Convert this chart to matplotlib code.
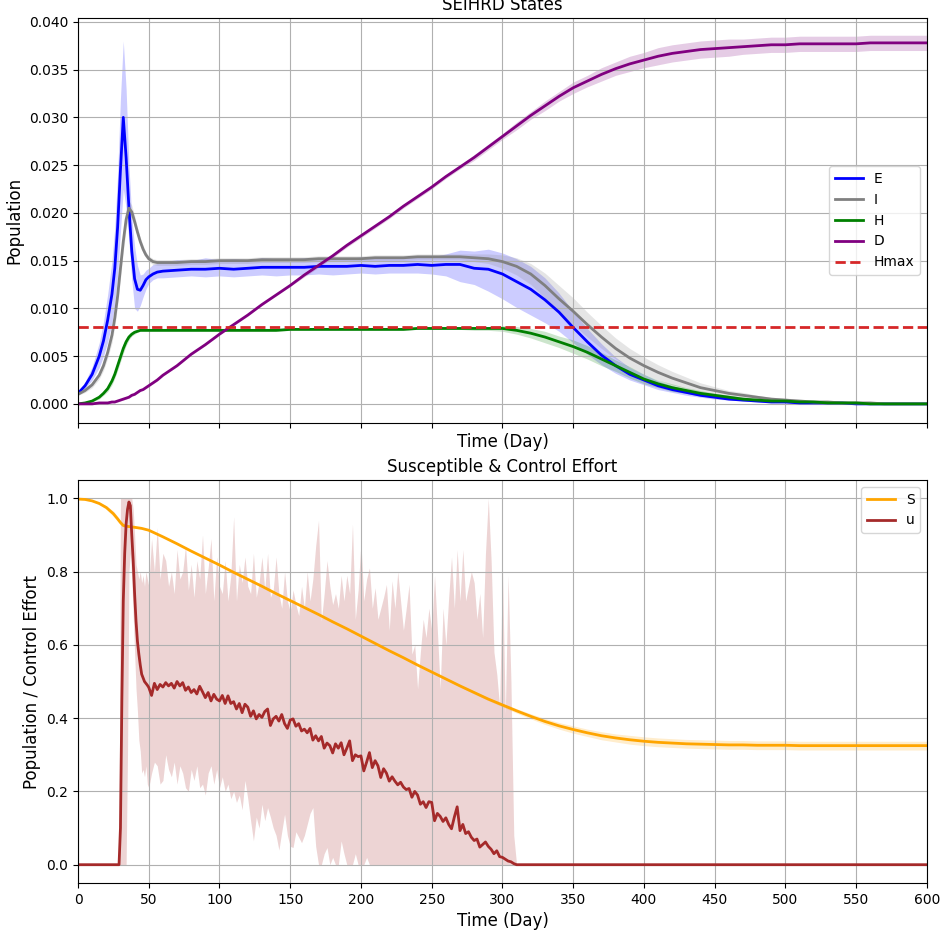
import matplotlib
import matplotlib.pyplot as plt
import numpy as np

matplotlib.use("Agg")

# ---- top panel: SEIHRD states (mean and band) ----
t_top = [0, 5, 10, 15, 18, 21, 24, 26, 28, 30, 32, 34, 36, 38, 40, 42, 44, 46, 48, 50, 53, 56, 60] + list(range(70, 601, 10))

E_mean = [0.0011, 0.0019, 0.0031, 0.0050, 0.0066, 0.0088, 0.0115, 0.0142, 0.0185, 0.0245, 0.0300, 0.0258,
          0.0205, 0.0160, 0.0131, 0.0120, 0.0119, 0.0124, 0.0130, 0.0133, 0.0136, 0.0138, 0.0139,
          0.0140, 0.0141, 0.0141, 0.0142,
          0.0141, 0.0142, 0.0143, 0.0143, 0.0143, 0.0143, 0.0144, 0.0144, 0.0144, 0.0145,
          0.0144, 0.0145, 0.0145, 0.0146, 0.0145, 0.0146, 0.0146, 0.0142, 0.0141, 0.0136,
          0.0128, 0.0120, 0.0109, 0.0096, 0.0080, 0.0065, 0.0051, 0.0040, 0.0031, 0.0025,
          0.0019, 0.0015, 0.0012, 0.0009, 0.0007, 0.0005, 0.0004, 0.0003, 0.0002, 0.0002,
          0.0001, 0.0001, 0.0001, 0.0001, 0.0000, 0.0000, 0.0000, 0.0000, 0.0000, 0.0000]
E_low = [0.0010, 0.0016, 0.0025, 0.0038, 0.0050, 0.0065, 0.0085, 0.0105, 0.0135, 0.0180, 0.0225, 0.0205,
         0.0170, 0.0130, 0.0100, 0.0097, 0.0103, 0.0112, 0.0120, 0.0126, 0.0130, 0.0132, 0.0132,
         0.0133, 0.0134, 0.0133, 0.0134,
         0.0133, 0.0134, 0.0135, 0.0134, 0.0135, 0.0135, 0.0136, 0.0135, 0.0136, 0.0137,
         0.0136, 0.0137, 0.0137, 0.0137, 0.0136, 0.0134, 0.0128, 0.0125, 0.0118, 0.0110,
         0.0101, 0.0093, 0.0085, 0.0076, 0.0064, 0.0052, 0.0041, 0.0032, 0.0025, 0.0020,
         0.0015, 0.0012, 0.0009, 0.0007, 0.0005, 0.0004, 0.0003, 0.0002, 0.0001, 0.0001,
         0.0000, 0.0000, 0.0000, 0.0000, 0.0000, 0.0000, 0.0000, 0.0000, 0.0000, 0.0000]
E_high = [0.0013, 0.0023, 0.0039, 0.0064, 0.0086, 0.0115, 0.0150, 0.0185, 0.0240, 0.0320, 0.0380, 0.0330,
          0.0250, 0.0195, 0.0165, 0.0145, 0.0135, 0.0136, 0.0140, 0.0142, 0.0146, 0.0147, 0.0149,
          0.0151, 0.0150, 0.0153, 0.0151,
          0.0152, 0.0151, 0.0153, 0.0152, 0.0151, 0.0153, 0.0152, 0.0153, 0.0152, 0.0154,
          0.0153, 0.0154, 0.0153, 0.0155, 0.0154, 0.0157, 0.0161, 0.0160, 0.0162, 0.0158,
          0.0152, 0.0144, 0.0132, 0.0116, 0.0097, 0.0079, 0.0063, 0.0049, 0.0038, 0.0031,
          0.0024, 0.0019, 0.0015, 0.0012, 0.0009, 0.0007, 0.0005, 0.0004, 0.0003, 0.0003,
          0.0002, 0.0002, 0.0001, 0.0001, 0.0001, 0.0000, 0.0000, 0.0000, 0.0000, 0.0000]

I_mean = [0.0010, 0.0014, 0.0020, 0.0030, 0.0040, 0.0054, 0.0072, 0.0090, 0.0113, 0.0142, 0.0170, 0.0193,
          0.0205, 0.0201, 0.0191, 0.0180, 0.0170, 0.0162, 0.0156, 0.0152, 0.0149, 0.0148, 0.0148,
          0.0148, 0.0149, 0.0149, 0.0150,
          0.0150, 0.0150, 0.0151, 0.0151, 0.0151, 0.0151, 0.0152, 0.0152, 0.0152, 0.0152,
          0.0153, 0.0153, 0.0153, 0.0154, 0.0154, 0.0154, 0.0154, 0.0153, 0.0152, 0.0149,
          0.0144, 0.0136, 0.0124, 0.0110, 0.0097, 0.0083, 0.0070, 0.0058, 0.0048, 0.0040,
          0.0033, 0.0027, 0.0022, 0.0017, 0.0014, 0.0011, 0.0009, 0.0007, 0.0005, 0.0004,
          0.0003, 0.0002, 0.0002, 0.0001, 0.0001, 0.0001, 0.0000, 0.0000, 0.0000, 0.0000]
I_spread = [0.0001, 0.0002, 0.0003, 0.0004, 0.0005, 0.0006, 0.0008, 0.0009, 0.0010, 0.0011, 0.0011, 0.0010,
            0.0008, 0.0007, 0.0006, 0.0005, 0.0004, 0.0004, 0.0003, 0.0003, 0.0003, 0.0003, 0.0003,
            0.0003, 0.0003, 0.0003, 0.0003,
            0.0003, 0.0003, 0.0003, 0.0003, 0.0003, 0.0003, 0.0003, 0.0003, 0.0003, 0.0003,
            0.0003, 0.0003, 0.0003, 0.0003, 0.0003, 0.0003, 0.0003, 0.0004, 0.0005, 0.0007,
            0.0009, 0.0011, 0.0013, 0.0014, 0.0014, 0.0013, 0.0012, 0.0011, 0.0010, 0.0009,
            0.0008, 0.0007, 0.0006, 0.0005, 0.0004, 0.0003, 0.0003, 0.0002, 0.0002, 0.0002,
            0.0001, 0.0001, 0.0001, 0.0001, 0.0001, 0.0000, 0.0000, 0.0000, 0.0000, 0.0000]

H_mean = [0.0000, 0.0001, 0.0003, 0.0007, 0.0011, 0.0016, 0.0024, 0.0031, 0.0040, 0.0049, 0.0058, 0.0065,
          0.0070, 0.0073, 0.0075, 0.0076, 0.0077, 0.0077, 0.0077, 0.0077, 0.0077, 0.0077, 0.0077,
          0.0077, 0.0077, 0.0077, 0.0077,
          0.0077, 0.0077, 0.0077, 0.0077, 0.0078, 0.0078, 0.0078, 0.0078, 0.0078, 0.0078,
          0.0078, 0.0078, 0.0078, 0.0079, 0.0079, 0.0079, 0.0079, 0.0079, 0.0079, 0.0079,
          0.0077, 0.0074, 0.0070, 0.0065, 0.0060, 0.0054, 0.0047, 0.0040, 0.0033, 0.0026,
          0.0021, 0.0017, 0.0014, 0.0011, 0.0009, 0.0007, 0.0005, 0.0004, 0.0003, 0.0003,
          0.0002, 0.0002, 0.0001, 0.0001, 0.0001, 0.0000, 0.0000, 0.0000, 0.0000, 0.0000]
H_spread = [0.0000, 0.0001, 0.0001, 0.0002, 0.0002, 0.0003, 0.0004, 0.0004, 0.0005, 0.0005, 0.0005, 0.0004,
            0.0003, 0.0002, 0.0002, 0.0001, 0.0001, 0.0001, 0.0001, 0.0001, 0.0001, 0.0001, 0.0001,
            0.0001, 0.0001, 0.0001, 0.0001,
            0.0001, 0.0001, 0.0001, 0.0001, 0.0001, 0.0001, 0.0001, 0.0001, 0.0001, 0.0001,
            0.0001, 0.0001, 0.0001, 0.0001, 0.0001, 0.0001, 0.0001, 0.0002, 0.0002, 0.0003,
            0.0004, 0.0005, 0.0006, 0.0006, 0.0007, 0.0007, 0.0007, 0.0006, 0.0006, 0.0005,
            0.0004, 0.0004, 0.0003, 0.0003, 0.0002, 0.0002, 0.0002, 0.0001, 0.0001, 0.0001,
            0.0001, 0.0001, 0.0001, 0.0000, 0.0000, 0.0000, 0.0000, 0.0000, 0.0000, 0.0000]

D_mean = [0.0000, 0.0000, 0.0000, 0.0001, 0.0001, 0.0001, 0.0002, 0.0002, 0.0003, 0.0004, 0.0005, 0.0006,
          0.0007, 0.0009, 0.0010, 0.0012, 0.0014, 0.0015, 0.0017, 0.0019, 0.0022, 0.0025, 0.0030,
          0.0040, 0.0052, 0.0062, 0.0073,
          0.0083, 0.0093, 0.0104, 0.0114, 0.0124, 0.0135, 0.0145, 0.0155, 0.0166, 0.0176,
          0.0186, 0.0196, 0.0207, 0.0217, 0.0227, 0.0238, 0.0248, 0.0258, 0.0269, 0.0280,
          0.0291, 0.0302, 0.0312, 0.0322, 0.0331, 0.0338, 0.0345, 0.0351, 0.0356, 0.0360,
          0.0364, 0.0367, 0.0369, 0.0371, 0.0372, 0.0373, 0.0374, 0.0375, 0.0376, 0.0376,
          0.0377, 0.0377, 0.0377, 0.0377, 0.0377, 0.0378, 0.0378, 0.0378, 0.0378, 0.0378]
D_spread = [0.0000, 0.0000, 0.0000, 0.0000, 0.0000, 0.0001, 0.0001, 0.0001, 0.0001, 0.0001, 0.0001, 0.0001,
            0.0001, 0.0001, 0.0001, 0.0001, 0.0001, 0.0001, 0.0001, 0.0001, 0.0001, 0.0001, 0.0001,
            0.0001, 0.0001, 0.0001, 0.0001,
            0.0001, 0.0001, 0.0001, 0.0001, 0.0001, 0.0002, 0.0002, 0.0002, 0.0002, 0.0002,
            0.0002, 0.0002, 0.0002, 0.0002, 0.0002, 0.0002, 0.0002, 0.0003, 0.0003, 0.0003,
            0.0004, 0.0004, 0.0005, 0.0005, 0.0006, 0.0006, 0.0007, 0.0007, 0.0008, 0.0008,
            0.0009, 0.0009, 0.0009, 0.0009, 0.0009, 0.0009, 0.0008, 0.0008, 0.0008, 0.0008,
            0.0008, 0.0008, 0.0008, 0.0008, 0.0008, 0.0008, 0.0008, 0.0008, 0.0008, 0.0008]

H_MAX = 0.008

# ---- bottom panel: susceptible and control effort ----
t_s = [0, 5, 10, 15, 20, 25, 28, 30, 32, 34, 36, 40, 45, 50] + list(range(60, 601, 10))
S_mean = [0.998, 0.997, 0.993, 0.986, 0.975, 0.958, 0.944, 0.934, 0.926, 0.924, 0.923, 0.921, 0.918, 0.913,
          0.895, 0.876, 0.856, 0.837, 0.818, 0.798, 0.779, 0.760, 0.740, 0.721,
          0.702, 0.683, 0.663, 0.644, 0.624, 0.604, 0.584, 0.565, 0.545, 0.526,
          0.507, 0.488, 0.470, 0.452, 0.436, 0.420, 0.405, 0.391, 0.379, 0.369,
          0.360, 0.352, 0.346, 0.341, 0.337, 0.334, 0.332, 0.330, 0.329, 0.328,
          0.327, 0.327, 0.326, 0.326, 0.326, 0.325, 0.325, 0.325, 0.325, 0.325,
          0.325, 0.325, 0.325, 0.325, 0.325]
S_spread = [0.001, 0.001, 0.002, 0.003, 0.005, 0.007, 0.007, 0.006, 0.004, 0.003, 0.002, 0.002, 0.002, 0.002,
            0.002, 0.002, 0.002, 0.002, 0.002, 0.002, 0.002, 0.002, 0.002, 0.002,
            0.002, 0.002, 0.002, 0.002, 0.002, 0.002, 0.002, 0.002, 0.002, 0.002,
            0.003, 0.003, 0.004, 0.004, 0.005, 0.006, 0.007, 0.008, 0.009, 0.010,
            0.010, 0.011, 0.011, 0.012, 0.012, 0.012, 0.012, 0.012, 0.012, 0.012,
            0.012, 0.012, 0.012, 0.012, 0.012, 0.012, 0.012, 0.012, 0.012, 0.012,
            0.012, 0.012, 0.012, 0.012, 0.012]

t_u = [0] + list(range(28, 51)) + list(range(52, 311, 2)) + [600]
u_mean = [0.0,
          0.0, 0.0, 0.10, 0.45, 0.72, 0.85, 0.93, 0.97, 0.99, 0.98, 0.90, 0.83, 0.74,
          0.665, 0.61, 0.575, 0.545, 0.52, 0.51, 0.50, 0.495, 0.49, 0.484,
          0.462, 0.495, 0.478, 0.492, 0.485, 0.497, 0.488, 0.495, 0.482, 0.500,
          0.488, 0.497, 0.476, 0.485, 0.470, 0.478, 0.466, 0.487, 0.472, 0.456,
          0.470, 0.447, 0.465, 0.452, 0.447, 0.462, 0.440, 0.461, 0.440, 0.445,
          0.425, 0.440, 0.415, 0.438, 0.430, 0.405, 0.420, 0.398, 0.410, 0.402,
          0.418, 0.425, 0.380, 0.398, 0.405, 0.392, 0.410, 0.385, 0.372, 0.395,
          0.398, 0.378, 0.385, 0.365, 0.370, 0.360, 0.372, 0.340, 0.352, 0.338,
          0.350, 0.318, 0.332, 0.325, 0.305, 0.330, 0.318, 0.333, 0.300, 0.318,
          0.338, 0.284, 0.300, 0.295, 0.297, 0.256, 0.280, 0.306, 0.265, 0.284,
          0.270, 0.238, 0.262, 0.250, 0.228, 0.240, 0.228, 0.218, 0.225, 0.212,
          0.205, 0.208, 0.184, 0.200, 0.190, 0.165, 0.172, 0.156, 0.172, 0.170,
          0.120, 0.140, 0.132, 0.118, 0.128, 0.110, 0.098, 0.130, 0.158, 0.093,
          0.110, 0.085, 0.090, 0.075, 0.066, 0.070, 0.048, 0.055, 0.062, 0.050,
          0.042, 0.030, 0.038, 0.022, 0.020, 0.015, 0.010, 0.008, 0.003, 0.000,
          0.0]
u_high = [0.0,
          0.0, 0.0, 1.0, 1.0, 1.0, 1.0, 1.0, 1.0, 1.0, 1.0, 1.0, 0.97, 0.90,
          0.82, 0.80, 0.78, 0.80, 0.77, 0.79, 0.76, 0.80, 0.78, 0.76,
          0.89, 0.80, 0.92, 0.78, 0.85, 0.83, 0.76, 0.80, 0.74, 0.86,
          0.78, 0.80, 0.87, 0.75, 0.82, 0.73, 0.83, 0.78, 0.90, 0.74,
          0.81, 0.89, 0.72, 0.84, 0.76, 0.74, 0.83, 0.72, 0.79, 0.95,
          0.72, 0.82, 0.77, 0.84, 0.76, 0.74, 0.85, 0.73, 0.77, 0.84,
          0.75, 0.85, 0.73, 0.75, 0.84, 0.74, 0.70, 0.80, 0.72, 0.69,
          0.75, 0.71, 0.68, 0.76, 0.70, 0.80, 0.72, 0.78, 0.87, 0.94,
          0.665, 0.74, 0.83, 0.76, 0.71, 0.74, 0.70, 0.79, 0.72, 0.79,
          0.74, 0.93, 0.67, 0.75, 0.88, 0.72, 0.78, 0.81, 0.70, 0.756,
          0.67, 0.70, 0.73, 0.765, 0.64, 0.775, 0.70, 0.80, 0.72, 0.64,
          0.70, 0.765, 0.575, 0.60, 0.48, 0.58, 0.67, 0.62, 0.70, 0.64,
          0.79, 0.64, 0.48, 0.70, 0.60, 0.73, 0.84, 0.70, 0.86, 0.72,
          0.86, 0.72, 0.76, 0.80, 0.77, 0.67, 0.74, 0.62, 0.85, 1.00,
          0.83, 0.58, 0.52, 0.43, 0.81, 0.41, 0.79, 0.50, 0.08, 0.00,
          0.0]
u_low = [0.0,
         0.0, 0.0, 0.0, 0.0, 0.0, 0.0, 0.0, 0.30, 0.80, 0.85, 0.78, 0.68, 0.58,
         0.48, 0.42, 0.34, 0.31, 0.25, 0.26, 0.24, 0.27, 0.22, 0.21,
         0.25, 0.28, 0.27, 0.22, 0.23, 0.30, 0.26, 0.24, 0.28, 0.22,
         0.27, 0.25, 0.21, 0.20, 0.26, 0.23, 0.27, 0.21, 0.22, 0.19,
         0.25, 0.27, 0.22, 0.26, 0.21, 0.24, 0.20, 0.22, 0.18, 0.20,
         0.17, 0.19, 0.15, 0.23, 0.18, 0.12, 0.065, 0.13, 0.10, 0.165,
         0.12, 0.156, 0.13, 0.10, 0.08, 0.04, 0.09, 0.138, 0.08, 0.05,
         0.047, 0.09, 0.075, 0.06, 0.08, 0.11, 0.14, 0.156, 0.05, 0.0,
         0.0, 0.03, 0.047, 0.0, 0.02, 0.0, 0.0, 0.065, 0.03, 0.0,
         0.0, 0.0, 0.03, 0.0, 0.0, 0.0, 0.02, 0.0, 0.0, 0.0,
         0.0, 0.0, 0.0, 0.0, 0.0, 0.0, 0.0, 0.0, 0.0, 0.0,
         0.0, 0.0, 0.0, 0.0, 0.0, 0.0, 0.0, 0.0, 0.0, 0.0,
         0.0, 0.0, 0.0, 0.0, 0.0, 0.0, 0.0, 0.0, 0.0, 0.0,
         0.0, 0.0, 0.0, 0.0, 0.0, 0.0, 0.0, 0.0, 0.0, 0.0,
         0.0, 0.0, 0.0, 0.0, 0.0, 0.0, 0.0, 0.0, 0.0, 0.0,
         0.0]


figure = plt.figure(figsize=(9.41, 9.35), dpi=100)
top_axis = figure.add_axes([0.0829, 0.5476, 0.9021, 0.4331])
bottom_axis = figure.add_axes([0.0829, 0.0556, 0.9021, 0.4310], sharex=top_axis)

tt = np.array(t_top)
for mean, color, label, low, high in [
    (E_mean, "blue", "E", E_low, E_high),
    (I_mean, "gray", "I", None, I_spread),
    (H_mean, "green", "H", None, H_spread),
    (D_mean, "purple", "D", None, D_spread),
]:
    mean = np.array(mean)
    if low is None:
        spread = np.array(high)
        low, high = np.clip(mean - spread, 0, None), mean + spread
    top_axis.fill_between(tt, low, high, color=color, alpha=0.2, linewidth=0)
    top_axis.plot(tt, mean, color=color, linewidth=2, label=label)
top_axis.axhline(H_MAX, color="tab:red", linestyle="--", linewidth=2, label="Hmax")
top_axis.set_ylim(-0.0020, 0.0404)
top_axis.set_xlim(0, 600)
top_axis.set_title("SEIHRD States")
top_axis.set_ylabel("Population", fontsize=12)
top_axis.set_xlabel("Time (Day)", fontsize=12)
top_axis.tick_params(labelbottom=False)
top_axis.grid(True)
top_axis.legend(loc="center right")

ts = np.array(t_s)
S = np.array(S_mean)
S_sp = np.array(S_spread)
bottom_axis.fill_between(ts, S - S_sp, S + S_sp, color="orange", alpha=0.2, linewidth=0)
bottom_axis.plot(ts, S, color="orange", linewidth=2, label="S")
bottom_axis.fill_between(t_u, u_low, u_high, color="brown", alpha=0.2, linewidth=0)
bottom_axis.plot(t_u, u_mean, color="brown", linewidth=2, label="u")
bottom_axis.set_ylim(-0.05, 1.05)
bottom_axis.set_xticks(range(0, 601, 50))
bottom_axis.set_title("Susceptible & Control Effort")
bottom_axis.set_ylabel("Population / Control Effort", fontsize=12)
bottom_axis.set_xlabel("Time (Day)", fontsize=12)
bottom_axis.grid(True)
bottom_axis.legend(loc="upper right")

figure.savefig("out.png", dpi=100)
plt.close(figure)
